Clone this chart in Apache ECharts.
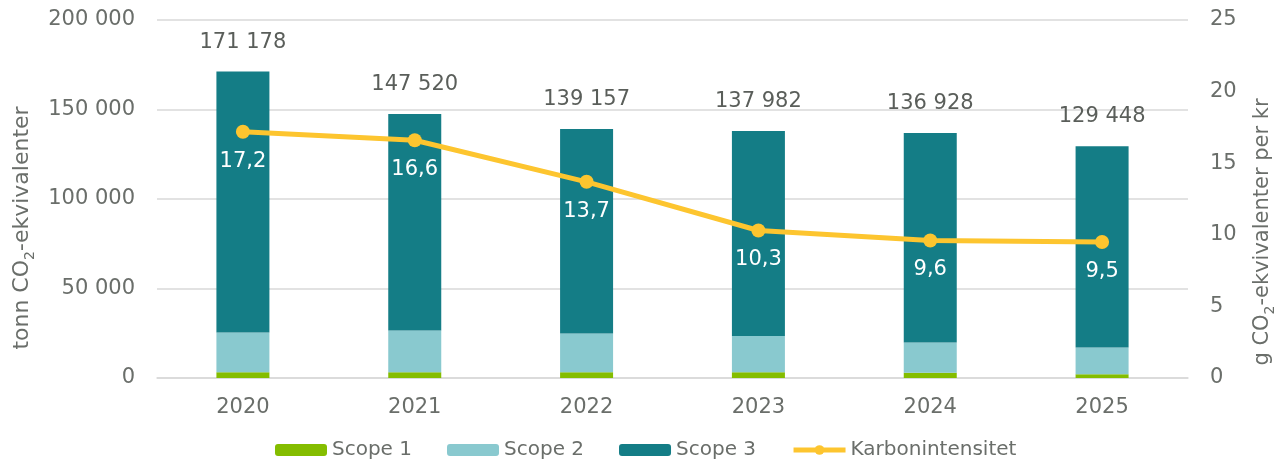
<!DOCTYPE html>
<html>
<head>
<meta charset="utf-8">
<script src="https://cdn.jsdelivr.net/npm/echarts@6/dist/echarts.min.js"></script>
<style>
html,body{margin:0;padding:0;background:#fff;}
#c{width:1285px;height:461px;}
</style>
</head>
<body>
<div id="c"></div>
<script>
const years = ['2020','2021','2022','2023','2024','2025'];
const scope1 = [3200, 3200, 3200, 3200, 2900, 2100];
const scope2 = [22200, 23300, 21700, 20300, 16900, 14900];
const scope3 = [145778, 121020, 114257, 114482, 117128, 112448];
const totals = [171178, 147520, 139157, 137982, 136928, 129448];
const intensity = [17.2, 16.6, 13.7, 10.3, 9.6, 9.5];

const FONT = 'DejaVu Sans';
const GREY = '#6a6e6a';
const YELLOW = '#fdc52f';
const fmtThousands = v => String(v).replace(/\B(?=(\d{3})+(?!\d))/g, ' ');
const fmtDec = v => v.toFixed(1).replace('.', ',');

const chart = echarts.init(document.getElementById('c'), null, {renderer: 'canvas'});
chart.setOption({
  animation: false,
  textStyle: {fontFamily: FONT},
  grid: {left: 157, right: 93, top: 20, bottom: 83},
  legend: {
    left: 270, top: 435,
    itemWidth: 52, itemHeight: 12, itemGap: 35,
    textStyle: {fontFamily: FONT, fontSize: 20, color: GREY},
    data: ['Scope 1', 'Scope 2', 'Scope 3',
      {name: 'Karbonintensitet', lineStyle: {width: 5}}]
  },
  xAxis: {
    type: 'category', data: years,
    axisLine: {lineStyle: {color: '#d9d9d9', width: 1.5}},
    axisTick: {show: false},
    axisLabel: {fontFamily: FONT, fontSize: 21, color: GREY, margin: 19}
  },
  yAxis: [{
    type: 'value', min: 0, max: 200000, interval: 50000,
    axisLine: {show: false}, axisTick: {show: false},
    splitLine: {lineStyle: {color: '#d9d9d9', width: 1.5}},
    axisLabel: {fontFamily: FONT, fontSize: 21, color: GREY, margin: 22, formatter: fmtThousands},
    name: '{a|tonn CO}{s|2}{a|-ekvivalenter}',
    nameLocation: 'middle', nameGap: 117, nameRotate: 90,
    nameTextStyle: {
      padding: [0, 58, 0, 0],
      rich: {
        a: {fontFamily: FONT, fontSize: 22, color: GREY, lineHeight: 26, verticalAlign: 'bottom'},
        s: {fontFamily: FONT, fontSize: 14, color: GREY, lineHeight: 14, verticalAlign: 'bottom', padding: [0,0,-4,0]}
      }
    }
  }, {
    type: 'value', min: 0, max: 25, interval: 5,
    axisLine: {show: false}, axisTick: {show: false}, splitLine: {show: false},
    axisLabel: {fontFamily: FONT, fontSize: 21, color: GREY, margin: 22},
    name: '{a|g CO}{s|2}{a|-ekvivalenter per kr}',
    nameLocation: 'middle', nameGap: 60, nameRotate: 90,
    nameTextStyle: {
      padding: [0, 66, 0, 0],
      rich: {
        a: {fontFamily: FONT, fontSize: 21, color: GREY, lineHeight: 25, verticalAlign: 'bottom'},
        s: {fontFamily: FONT, fontSize: 14, color: GREY, lineHeight: 14, verticalAlign: 'bottom', padding: [0,0,-4,0]}
      }
    }
  }],
  series: [{
    name: 'Scope 1', type: 'bar', stack: 'tot', barWidth: 53, data: scope1,
    itemStyle: {color: '#84bd00'}
  }, {
    name: 'Scope 2', type: 'bar', stack: 'tot', data: scope2,
    itemStyle: {color: '#89c9cf'}
  }, {
    name: 'Scope 3', type: 'bar', stack: 'tot', data: scope3,
    itemStyle: {color: '#147d86'},
    label: {
      show: true, position: 'top', distance: 19,
      fontFamily: FONT, fontSize: 21, color: '#5a5e5a',
      formatter: p => fmtThousands(totals[p.dataIndex])
    }
  }, {
    name: 'Karbonintensitet', type: 'line', yAxisIndex: 1, data: intensity,
    symbol: 'circle', symbolSize: 14,
    lineStyle: {color: YELLOW, width: 5},
    itemStyle: {color: YELLOW},
    label: {
      show: true, position: 'bottom', distance: 12,
      fontFamily: FONT, fontSize: 21, color: '#ffffff',
      formatter: p => fmtDec(p.value)
    },
    z: 5
  }]
});
</script>
</body>
</html>
